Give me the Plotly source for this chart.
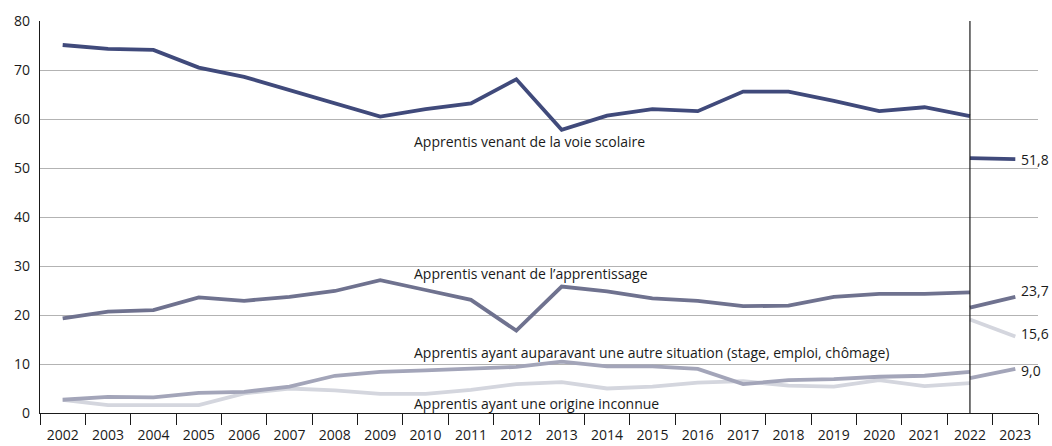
import plotly.graph_objects as go

years = [str(y) for y in range(2002, 2024)]
hist_years = years[:21]          # 2002..2022 (ancienne série)
new_years = ["2022", "2023"]     # nouvelle série

voie_scolaire = [75.1, 74.3, 74.1, 70.5, 68.6, 65.9, 63.1, 60.5, 62.0, 63.2, 68.1,
                 57.8, 60.7, 62.0, 61.6, 65.6, 65.6, 63.7, 61.6, 62.4, 60.6]
apprentissage = [19.3, 20.7, 21.0, 23.6, 22.9, 23.7, 24.9, 27.1, 25.1, 23.1, 16.8,
                 25.8, 24.8, 23.4, 22.9, 21.8, 21.9, 23.7, 24.3, 24.3, 24.6]
autre_situation = [2.7, 3.3, 3.2, 4.1, 4.3, 5.4, 7.6, 8.4, 8.7, 9.1, 9.4,
                   10.5, 9.5, 9.5, 9.0, 5.9, 6.7, 6.9, 7.4, 7.6, 8.4]
origine_inconnue = [2.7, 1.6, 1.6, 1.6, 4.0, 5.0, 4.6, 3.9, 3.9, 4.7, 5.9,
                    6.3, 5.0, 5.4, 6.2, 6.5, 5.6, 5.4, 6.7, 5.5, 6.1]

new_voie_scolaire = [52.0, 51.8]
new_apprentissage = [21.5, 23.7]
new_autre_situation = [7.1, 9.0]
new_origine_inconnue = [19.1, 15.6]

series_names = [
    "Apprentis venant de la voie scolaire",
    "Apprentis venant de l\u2019apprentissage",
    "Apprentis ayant auparavant une autre situation (stage, emploi, chômage)",
    "Apprentis ayant une origine inconnue",
]
label_y = [55.5, 28.4, 12.4, 2.0]
colors = ["#404a7b", "#6f728f", "#a3a5b9", "#d4d6de"]
end_label_yshift = [0, 6, -2, 3]

FONT = "Open Sans"
FS = 14
fig = go.Figure()

hist = [voie_scolaire, apprentissage, autre_situation, origine_inconnue]
new = [new_voie_scolaire, new_apprentissage, new_autre_situation, new_origine_inconnue]

# draw lighter first so darker on top
for i in [3, 2, 1, 0]:
    fig.add_trace(go.Scatter(x=hist_years, y=hist[i], mode="lines",
                             line=dict(color=colors[i], width=3.8),
                             hoverinfo="skip", showlegend=False))
    fig.add_trace(go.Scatter(x=new_years, y=new[i], mode="lines",
                             line=dict(color=colors[i], width=3.8),
                             hoverinfo="skip", showlegend=False))

annotations = []
for i in range(4):
    annotations.append(dict(x=7.7, y=label_y[i], xref="x", yref="y",
                            text=series_names[i], showarrow=False,
                            xanchor="left", yanchor="middle",
                            font=dict(family=FONT, size=FS, color="#1a1a1a")))
    last = new[i][-1]
    annotations.append(dict(x=years.index("2023"), y=last, xref="x", yref="y",
                            text=f"{last:.1f}".replace(".", ","), showarrow=False,
                            xanchor="left", yanchor="middle", xshift=4,
                            yshift=end_label_yshift[i],
                            font=dict(family=FONT, size=FS, color="#1a1a1a")))

break_idx = years.index("2022")
fig.add_shape(type="line", xref="x", yref="paper", x0=break_idx, x1=break_idx,
              y0=0, y1=1, line=dict(color="#1a1a1a", width=1.2), layer="above")

fig.update_layout(
    width=1052, height=446,
    margin=dict(l=40, r=14, t=21, b=33),
    paper_bgcolor="white", plot_bgcolor="white",
    font=dict(family=FONT, size=FS, color="#1a1a1a"),
    annotations=annotations,
    showlegend=False,
)
fig.update_xaxes(type="category", categoryorder="array", categoryarray=years,
                 range=[-0.5, len(years) - 0.5], automargin=False,
                 tickson="boundaries", ticks="outside", ticklen=11,
                 tickcolor="#1a1a1a", tickwidth=1.2,
                 showline=True, linecolor="#1a1a1a", linewidth=1.2,
                 showgrid=False, zeroline=False, ticklabelstandoff=9,
                 tickfont=dict(family=FONT, size=FS, color="#1a1a1a"))
fig.update_yaxes(range=[0, 80], dtick=10, tick0=0, automargin=False,
                 showgrid=True, gridcolor="#b3b3b3", gridwidth=1,
                 showline=True, linecolor="#1a1a1a", linewidth=1.2,
                 zeroline=False, ticks="", ticklabelstandoff=6,
                 tickfont=dict(family=FONT, size=FS, color="#1a1a1a"))

fig.write_html("out.html", config={"displayModeBar": False},
               post_script="document.body.style.margin='0px';document.body.style.overflow='hidden';")
